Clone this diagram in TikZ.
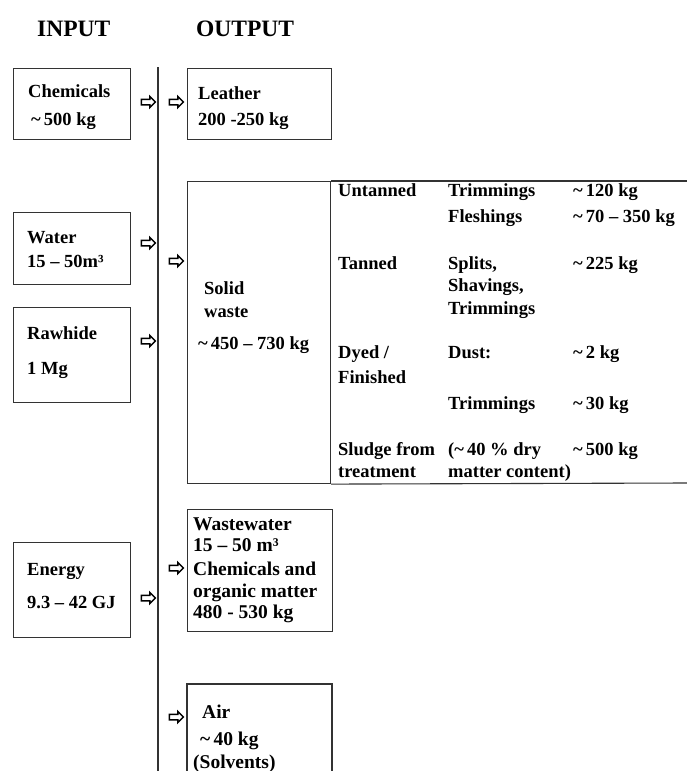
\documentclass[tikz,border=0pt]{standalone}
\usepackage{fontspec}
\setmainfont{Liberation Serif}
\usepackage{tikz}
\usetikzlibrary{shapes.arrows,positioning}

\tikzset{
  frame/.style={draw=black!80,line width=1.1pt},
  panel/.style={frame,anchor=north west,inner sep=0pt},
  txt/.style={anchor=base west,inner sep=0pt,font=\fontsize{18.5}{22}\selectfont\bfseries},
  bigtxt/.style={txt,font=\fontsize{19.5}{23}\selectfont\bfseries},
  heading/.style={anchor=base west,inner sep=0pt,font=\fontsize{23.5}{28}\selectfont\bfseries},
  flowmark/.style={single arrow,draw=black,line width=1.5pt,fill=white,inner sep=2pt,
    single arrow head extend=2.8pt,minimum height=14pt},
}

\begin{document}
\begin{tikzpicture}[x=1pt,y=-1pt]
  \useasboundingbox (0,0) rectangle (687,771);
  % Headings
  \node[heading] (inhead) at (37,36) {INPUT};
  \node[heading] (outhead) at (196,36) {OUTPUT};
  % Divider between inputs and outputs
  \coordinate (divtop) at (158,67);
  \coordinate (divbot) at (158,771);
  \draw[frame] (divtop) -- (divbot);
  % Input boxes
  \node[panel,minimum width=117pt,minimum height=71pt] (chembox) at (13,68) {};
  \node[panel,minimum width=117pt,minimum height=72pt] (waterbox) at (13,212) {};
  \node[panel,minimum width=117pt,minimum height=95pt] (hidebox) at (13,307) {};
  \node[panel,minimum width=117pt,minimum height=95pt] (energybox) at (13,542) {};
  \node[txt] (chem1) at (28,97) {Chemicals};
  \node[txt] (chem2) at (31,125) {\textasciitilde\,500 kg};
  \node[txt] (water1) at (27,243) {Water};
  \node[txt] (water2) at (27,267) {15 -- 50m³};
  \node[txt] (hide1) at (27,339) {Rawhide};
  \node[txt] (hide2) at (27,374) {1 Mg};
  \node[txt] (energy1) at (27,575) {Energy};
  \node[txt] (energy2) at (27,608) {9.3 -- 42 GJ};
  % Input arrows (left of divider)
  \foreach \n/\yy in {chem/102,water/243,hide/341,energy/598}{
    \node[flowmark] (in-\n) at (147,\yy) {};
  }
  % Output boxes
  \node[panel,minimum width=144pt,minimum height=71pt] (leatherbox) at (187,68) {};
  \node[panel,minimum width=143pt,minimum height=302pt] (solidbox) at (187,181) {};
  \node[panel,minimum width=145pt,minimum height=122pt] (wastebox) at (187,509) {};
  \coordinate (airbl) at (187,771);
  \coordinate (airtl) at (187,684);
  \coordinate (airtr) at (332,684);
  \coordinate (airbr) at (332,771);
  \draw[frame] (airbl) -- (airtl) -- (airtr) -- (airbr);
  \node[txt] (leather1) at (198,99) {Leather};
  \node[txt] (leather2) at (198,125) {200 -250 kg};
  \node[txt] (solid1) at (204,294) {Solid};
  \node[txt] (solid2) at (204,317) {waste};
  \node[txt] (solid3) at (198,349) {\textasciitilde\,450 -- 730 kg};
  \node[bigtxt] (waste1) at (193,530) {Wastewater};
  \node[bigtxt] (waste2) at (193,551) {15 -- 50 m³};
  \node[bigtxt] (waste3) at (193,575) {Chemicals and};
  \node[bigtxt] (waste4) at (193,597) {organic matter};
  \node[bigtxt] (waste5) at (193,618) {480 - 530 kg};
  \node[bigtxt] (air1) at (202,718) {Air};
  \node[bigtxt] (air2) at (200,745) {\textasciitilde\,40 kg};
  \node[bigtxt] (air3) at (193,768) {(Solvents)};
  % Output arrows (right of divider)
  \foreach \n/\yy in {leather/102,solid/261,waste/568,air/717}{
    \node[flowmark] (out-\n) at (175,\yy) {};
  }
  % Solid waste breakdown table
  \coordinate (tabtr) at (687,181);
  \coordinate (tabbr) at (687,483);
  \draw[frame] (solidbox.north east) -- (tabtr);
  \draw[frame] (solidbox.south east) -- (tabbr);
  \foreach \yy/\ca/\cb/\cc [count=\r] in {
    196/Untanned/Trimmings/{\textasciitilde\,120 kg},
    222//Fleshings/{\textasciitilde\,70 -- 350 kg},
    269/Tanned/{Splits,}/{\textasciitilde\,225 kg},
    291//{Shavings,}/,
    314//Trimmings/,
    358/{Dyed /}/Dust:/{\textasciitilde\,2 kg},
    383/Finished//,
    409//Trimmings/{\textasciitilde\,30 kg},
    455/Sludge from/{(\textasciitilde\,40 \% dry}/{\textasciitilde\,500 kg},
    477/treatment/{matter content)}/}{
    \node[txt] (ta\r) at (338,\yy) {\ca};
    \node[txt] (tb\r) at (448,\yy) {\cb};
    \node[txt] (tc\r) at (573,\yy) {\cc};
  }
\end{tikzpicture}
\end{document}
